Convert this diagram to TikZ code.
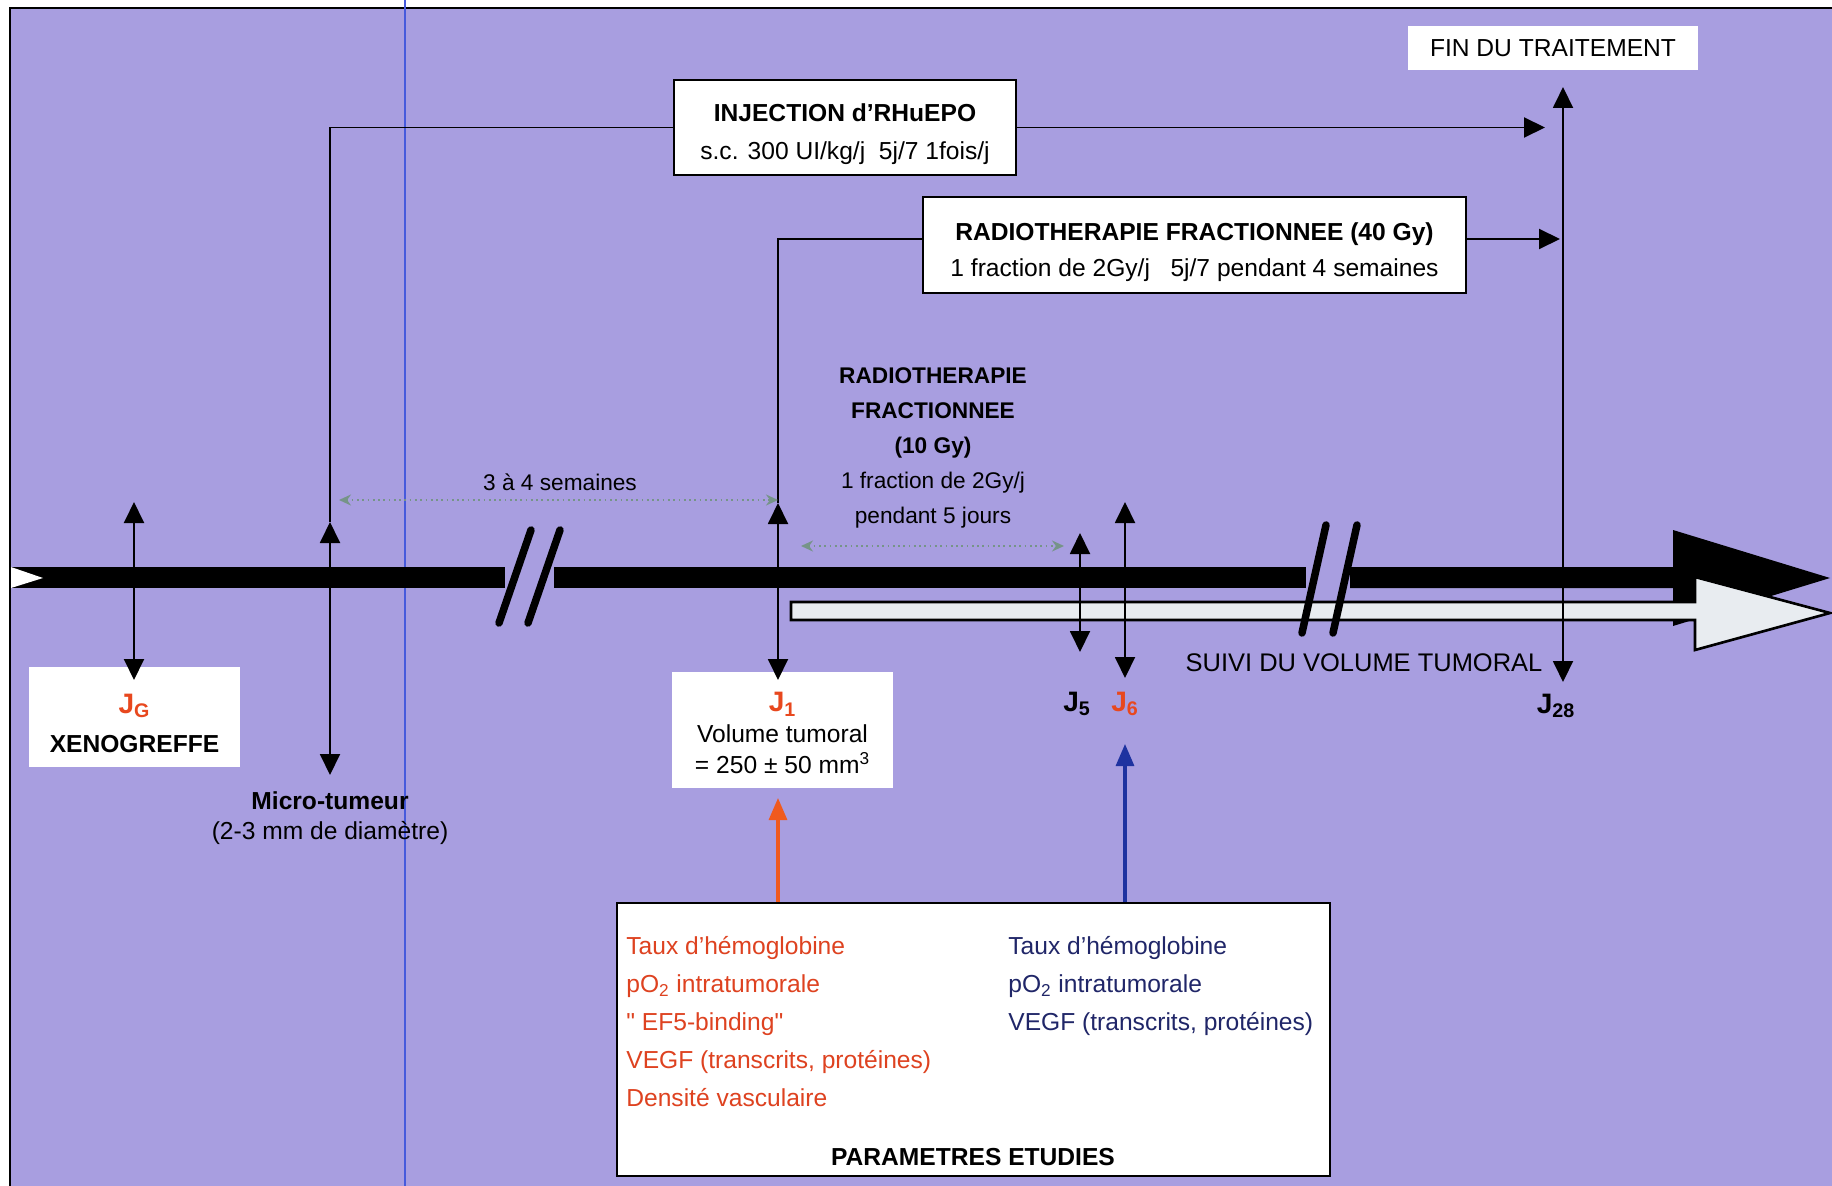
\documentclass[tikz,border=0pt]{standalone}
\usepackage{fontspec}
\setmainfont{Liberation Sans}
\newfontfamily\straightqt{Liberation Sans}
\usepackage{tikz}
\usetikzlibrary{arrows.meta,calc}
\definecolor{lavbg}{RGB}{168,158,224}
\definecolor{jred}{RGB}{232,72,30}
\definecolor{pred}{RGB}{222,66,32}
\definecolor{pblue}{RGB}{32,38,104}
\definecolor{oarrow}{RGB}{240,90,30}
\definecolor{barrow}{RGB}{30,50,160}
\definecolor{dotgreen}{RGB}{118,148,136}
\definecolor{hollow}{RGB}{232,236,240}
\definecolor{bluerule}{RGB}{70,90,220}
\newcommand{\fsmain}{\fontsize{14}{17}\selectfont}
\newcommand{\fsday}{\fontsize{16}{19}\selectfont\bfseries}

\begin{document}
\begin{tikzpicture}[x=0.02cm,y=-0.02cm,
  framebox/.style={draw,fill=white,line width=1.2pt,inner sep=0pt},
  whitebox/.style={fill=white,inner sep=0pt},
  boxtext/.style={align=center,inner sep=0pt},
  linkline/.style={line width=1.1pt},
  dayarrow/.style={line width=1.1pt,{Triangle[width=0.4cm,length=0.42cm]}-{Triangle[width=0.4cm,length=0.42cm]}},
  endarrow/.style={line width=1.1pt,-{Triangle[width=0.4cm,length=0.42cm]}},
  gaparrow/.style={dotgreen,dotted,line width=1pt,{Stealth[width=0.22cm,length=0.24cm]}-{Stealth[width=0.22cm,length=0.24cm]}},
  paramarrow/.style={line width=1.8pt,-{Triangle[width=0.36cm,length=0.44cm]}},
  slash/.style={line width=0.15cm,line cap=round},
  jlabel/.style={font=\fsday,inner sep=0pt}]
\useasboundingbox (0,0) rectangle (1832,1186);
\fill[white] (0,0) rectangle (1832,1186);
\fill[lavbg] (10,8) rectangle (1832,1186);
\draw[line width=1pt] (10,1186) -- (10,8) -- (1832,8);
\draw[bluerule,line width=0.6pt] (405,0) -- (405,1186);

\fill (11,567) rectangle (505,588);
\fill[white] (11,567) -- (43,578) -- (11,588) -- cycle;
\fill (554,567) rectangle (1306,588);
\fill (1350,567) -- (1673,567) -- (1673,530) -- (1830,578) -- (1673,626) -- (1673,588) -- (1350,588) -- cycle;
\filldraw[fill=hollow,line width=1.5pt] (791,602) -- (1695,602) -- (1695,577) -- (1830,613) -- (1695,650) -- (1695,620) -- (791,620) -- cycle;
\draw[slash] (499,623) -- (531,530) (528,623) -- (560,530);
\draw[slash] (1302,633) -- (1326,525) (1333,633) -- (1357,525);

\node[framebox,minimum width=6.84cm,minimum height=1.9cm] (inj) at (845,127.5) {};
\node[boxtext,font=\fontsize{14}{22}\selectfont] (injtext) at (845,134)
  {\textbf{INJECTION d'RHuEPO}\\s.c. 300 UI/kg/j\ \ 5j/7 1fois/j};
\node[framebox,minimum width=10.86cm,minimum height=1.92cm] (radio) at (1194.5,245) {};
\node[boxtext,font=\fontsize{14}{20.5}\selectfont] (radiotext) at (1194.5,252)
  {\textbf{RADIOTHERAPIE FRACTIONNEE (40 Gy)}\\1 fraction de 2Gy/j\ \ \ 5j/7 pendant 4 semaines};
\node[whitebox,minimum width=5.8cm,minimum height=0.88cm,font=\fsmain] (fin) at (1553,48) {FIN DU TRAITEMENT};
\node[whitebox,minimum width=4.22cm,minimum height=2cm] (jg) at (134.5,717) {};
\node[boxtext,font=\fontsize{14}{22.5}\selectfont] (jgtext) at (134.5,723.5)
  {{\color{jred}\fsday J\textsubscript{G}}\\\textbf{XENOGREFFE}};
\node[whitebox,minimum width=4.42cm,minimum height=2.32cm] (jone) at (782.5,730) {};
\node[boxtext,font=\fontsize{14}{17.6}\selectfont] (jonetext) at (782.5,733)
  {{\color{jred}\fsday J\textsubscript{1}}\\Volume tumoral\\= 250 ± 50 mm\textsuperscript{3}};
\node[boxtext,font=\fontsize{14}{17}\selectfont] (micro) at (330,818)
  {\textbf{Micro-tumeur}\\(2-3 mm de diamètre)};
\node[boxtext,font=\fontsize{12.9}{19.9}\selectfont] (radmid) at (933,448)
  {\textbf{RADIOTHERAPIE}\\\textbf{FRACTIONNEE}\\\textbf{(10 Gy)}\\1 fraction de 2Gy/j\\pendant 5 jours};
\node[inner sep=0pt,font=\fontsize{12.9}{15}\selectfont] (weeks) at (560,482) {3 à 4 semaines};
\node[inner sep=0pt,font=\fontsize{14.5}{17}\selectfont] (suivi) at (1364,663) {SUIVI DU VOLUME TUMORAL};
\node[jlabel] (jfive) at (1077,704) {J\textsubscript{5}};
\node[jlabel,jred] (jsix) at (1125,704) {J\textsubscript{6}};
\node[jlabel] (jend) at (1556,706) {J\textsubscript{28}};

\node[framebox,minimum width=14.26cm,minimum height=5.46cm] (param) at (973.5,1039.5) {};
\node[anchor=north west,align=left,inner sep=0pt,pred,font=\fontsize{14}{21.6}\selectfont] (parl) at (626,936)
  {Taux d'hémoglobine\\pO\textsubscript{2} intratumorale\\{\straightqt"} EF5-binding{\straightqt"}\\VEGF (transcrits, protéines)\\Densité vasculaire};
\node[anchor=north west,align=left,inner sep=0pt,pblue,font=\fontsize{14}{21.6}\selectfont] (parr) at (1008,936)
  {Taux d'hémoglobine\\pO\textsubscript{2} intratumorale\\VEGF (transcrits, protéines)};
\node[inner sep=0pt,font=\fsmain\bfseries] (partitle) at (973,1157) {PARAMETRES ETUDIES};

\coordinate (jgtop) at (134,502);
\coordinate (jgbot) at (134,680);
\coordinate (mtop) at (330,522);
\coordinate (mbot) at (330,775);
\coordinate (injend) at (1545,127.5);
\coordinate (jonetop) at (778,503);
\coordinate (jonebot) at (778,680);
\coordinate (radend) at (1560,239);
\coordinate (jendtop) at (1563,87);
\coordinate (jendbot) at (1563,682);
\coordinate (jfivetop) at (1080,533);
\coordinate (jfivebot) at (1080,652);
\coordinate (jsixtop) at (1125,502);
\coordinate (jsixbot) at (1125,678);
\coordinate (wk) at (339,500);
\coordinate (wkend) at (778,500);
\coordinate (dy) at (801,546);
\coordinate (dyend) at (1064,546);
\coordinate (oatip) at (778,798);
\coordinate (batip) at (1125,744);

\draw[linkline] (inj.west) -| (mtop);
\draw[endarrow] (inj.east) -- (injend);
\draw[linkline] ([yshift=0.12cm]radio.west) -| (jonetop);
\draw[endarrow] ([yshift=0.12cm]radio.east) -- (radend);
\draw[dayarrow] (jgtop) -- (jgbot);
\draw[dayarrow] (mtop) -- (mbot);
\draw[dayarrow] (jonetop) -- (jonebot);
\draw[dayarrow] (jfivetop) -- (jfivebot);
\draw[dayarrow] (jsixtop) -- (jsixbot);
\draw[dayarrow] (jendtop) -- (jendbot);
\draw[gaparrow] (wk) -- (wkend);
\draw[gaparrow] (dy) -- (dyend);
\draw[paramarrow,oarrow] (oatip |- param.north) -- (oatip);
\draw[paramarrow,barrow] (batip |- param.north) -- (batip);
\end{tikzpicture}
\end{document}
